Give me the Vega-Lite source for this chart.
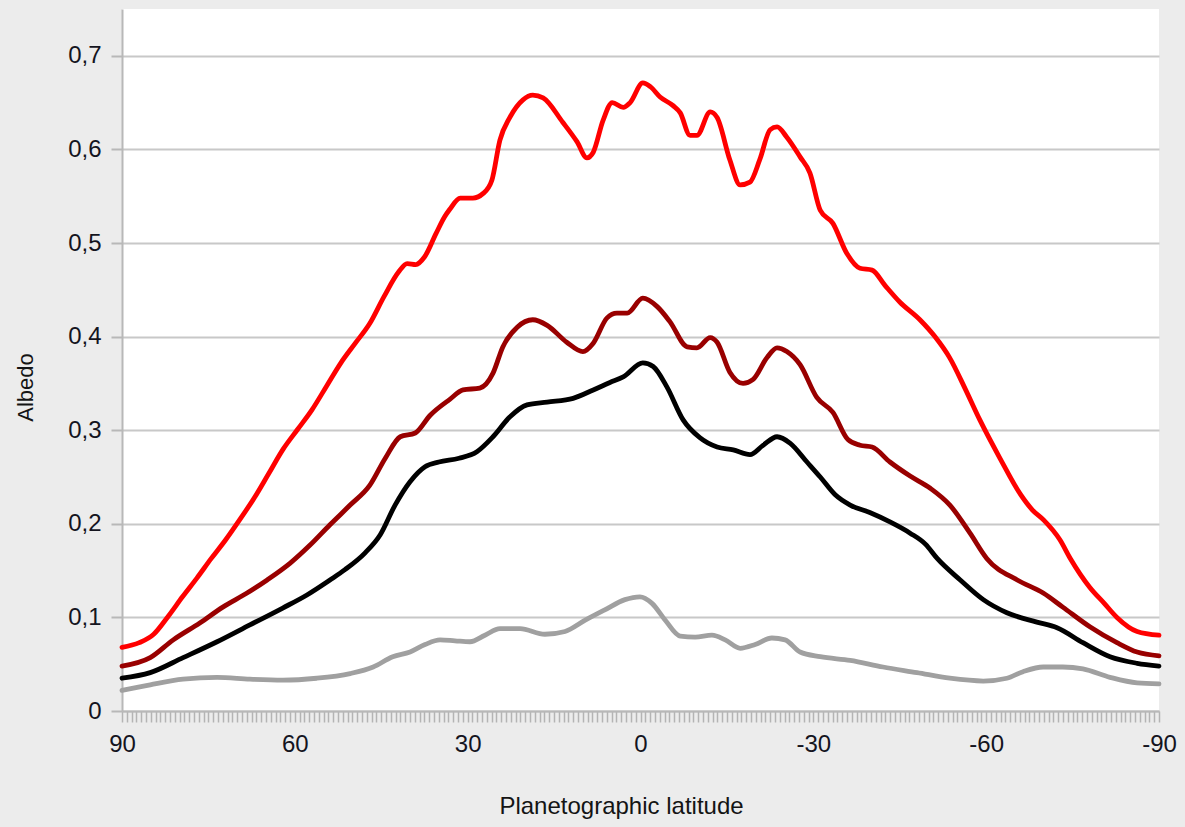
{
  "$schema": "https://vega.github.io/schema/vega-lite/v6.json",
  "width": 1037,
  "height": 702,
  "autosize": "none",
  "padding": {"left": 122, "top": 9, "right": 26, "bottom": 116},
  "background": "#ececec",
  "config": {
    "view": {"fill": "#ffffff", "stroke": null},
    "font": "Liberation Sans",
    "axis": {
      "labelFont": "Liberation Sans",
      "titleFont": "Liberation Sans",
      "labelColor": "#14141e",
      "titleColor": "#141414",
      "titleFontWeight": "normal",
      "domainColor": "#b8b8b8",
      "domainWidth": 2,
      "tickColor": "#b8b8b8"
    }
  },
  "datasets": {
    "albedo": [
      {"lat": 90, "albedo": 0.068, "series": "A"},
      {"lat": 87, "albedo": 0.073, "series": "A"},
      {"lat": 84.5, "albedo": 0.082, "series": "A"},
      {"lat": 82, "albedo": 0.101, "series": "A"},
      {"lat": 79.5, "albedo": 0.122, "series": "A"},
      {"lat": 77, "albedo": 0.142, "series": "A"},
      {"lat": 74.5, "albedo": 0.163, "series": "A"},
      {"lat": 72, "albedo": 0.183, "series": "A"},
      {"lat": 69.5, "albedo": 0.205, "series": "A"},
      {"lat": 67, "albedo": 0.228, "series": "A"},
      {"lat": 64.5, "albedo": 0.254, "series": "A"},
      {"lat": 62, "albedo": 0.28, "series": "A"},
      {"lat": 59.5, "albedo": 0.301, "series": "A"},
      {"lat": 57, "albedo": 0.322, "series": "A"},
      {"lat": 54.5, "albedo": 0.347, "series": "A"},
      {"lat": 52, "albedo": 0.372, "series": "A"},
      {"lat": 49.5, "albedo": 0.393, "series": "A"},
      {"lat": 47, "albedo": 0.414, "series": "A"},
      {"lat": 44.5, "albedo": 0.443, "series": "A"},
      {"lat": 42, "albedo": 0.469, "series": "A"},
      {"lat": 40.5, "albedo": 0.478, "series": "A"},
      {"lat": 39, "albedo": 0.477, "series": "A"},
      {"lat": 37.5, "albedo": 0.485, "series": "A"},
      {"lat": 35.5, "albedo": 0.51, "series": "A"},
      {"lat": 34, "albedo": 0.528, "series": "A"},
      {"lat": 33.1, "albedo": 0.536, "series": "A"},
      {"lat": 31.3, "albedo": 0.548, "series": "A"},
      {"lat": 29.1, "albedo": 0.548, "series": "A"},
      {"lat": 27.3, "albedo": 0.553, "series": "A"},
      {"lat": 25.8, "albedo": 0.567, "series": "A"},
      {"lat": 24.4, "albedo": 0.61, "series": "A"},
      {"lat": 22.7, "albedo": 0.634, "series": "A"},
      {"lat": 20.4, "albedo": 0.653, "series": "A"},
      {"lat": 18.7, "albedo": 0.658, "series": "A"},
      {"lat": 16.9, "albedo": 0.655, "series": "A"},
      {"lat": 13.5, "albedo": 0.629, "series": "A"},
      {"lat": 11, "albedo": 0.608, "series": "A"},
      {"lat": 9.3, "albedo": 0.591, "series": "A"},
      {"lat": 8.2, "albedo": 0.597, "series": "A"},
      {"lat": 6.5, "albedo": 0.631, "series": "A"},
      {"lat": 4.9, "albedo": 0.65, "series": "A"},
      {"lat": 3, "albedo": 0.645, "series": "A"},
      {"lat": 1.8, "albedo": 0.65, "series": "A"},
      {"lat": -0.4, "albedo": 0.671, "series": "A"},
      {"lat": -1.7, "albedo": 0.667, "series": "A"},
      {"lat": -3.4, "albedo": 0.656, "series": "A"},
      {"lat": -5.6, "albedo": 0.647, "series": "A"},
      {"lat": -6.9, "albedo": 0.639, "series": "A"},
      {"lat": -8.6, "albedo": 0.615, "series": "A"},
      {"lat": -9.8, "albedo": 0.615, "series": "A"},
      {"lat": -12.1, "albedo": 0.64, "series": "A"},
      {"lat": -13.3, "albedo": 0.634, "series": "A"},
      {"lat": -15.5, "albedo": 0.589, "series": "A"},
      {"lat": -17.3, "albedo": 0.562, "series": "A"},
      {"lat": -19, "albedo": 0.565, "series": "A"},
      {"lat": -20.7, "albedo": 0.589, "series": "A"},
      {"lat": -22.5, "albedo": 0.621, "series": "A"},
      {"lat": -23.7, "albedo": 0.624, "series": "A"},
      {"lat": -25.4, "albedo": 0.613, "series": "A"},
      {"lat": -27.7, "albedo": 0.592, "series": "A"},
      {"lat": -29.4, "albedo": 0.575, "series": "A"},
      {"lat": -31.2, "albedo": 0.535, "series": "A"},
      {"lat": -33.4, "albedo": 0.521, "series": "A"},
      {"lat": -35.8, "albedo": 0.489, "series": "A"},
      {"lat": -38.1, "albedo": 0.473, "series": "A"},
      {"lat": -40.2, "albedo": 0.471, "series": "A"},
      {"lat": -42.4, "albedo": 0.455, "series": "A"},
      {"lat": -45, "albedo": 0.437, "series": "A"},
      {"lat": -48.5, "albedo": 0.418, "series": "A"},
      {"lat": -51.1, "albedo": 0.4, "series": "A"},
      {"lat": -53.7, "albedo": 0.377, "series": "A"},
      {"lat": -56.3, "albedo": 0.345, "series": "A"},
      {"lat": -58.9, "albedo": 0.311, "series": "A"},
      {"lat": -62.4, "albedo": 0.27, "series": "A"},
      {"lat": -65.9, "albedo": 0.232, "series": "A"},
      {"lat": -68, "albedo": 0.215, "series": "A"},
      {"lat": -70, "albedo": 0.204, "series": "A"},
      {"lat": -72.8, "albedo": 0.183, "series": "A"},
      {"lat": -74.6, "albedo": 0.163, "series": "A"},
      {"lat": -78, "albedo": 0.132, "series": "A"},
      {"lat": -80.5, "albedo": 0.115, "series": "A"},
      {"lat": -82.7, "albedo": 0.1, "series": "A"},
      {"lat": -86.2, "albedo": 0.085, "series": "A"},
      {"lat": -90, "albedo": 0.081, "series": "A"},

      {"lat": 90, "albedo": 0.048, "series": "B"},
      {"lat": 85.1, "albedo": 0.057, "series": "B"},
      {"lat": 81.1, "albedo": 0.076, "series": "B"},
      {"lat": 76.5, "albedo": 0.094, "series": "B"},
      {"lat": 72.5, "albedo": 0.111, "series": "B"},
      {"lat": 68.3, "albedo": 0.126, "series": "B"},
      {"lat": 64.8, "albedo": 0.14, "series": "B"},
      {"lat": 60.8, "albedo": 0.158, "series": "B"},
      {"lat": 57.4, "albedo": 0.177, "series": "B"},
      {"lat": 53.9, "albedo": 0.199, "series": "B"},
      {"lat": 50.4, "albedo": 0.22, "series": "B"},
      {"lat": 47, "albedo": 0.241, "series": "B"},
      {"lat": 44.3, "albedo": 0.27, "series": "B"},
      {"lat": 41.7, "albedo": 0.293, "series": "B"},
      {"lat": 39.1, "albedo": 0.297, "series": "B"},
      {"lat": 36.5, "albedo": 0.316, "series": "B"},
      {"lat": 33.1, "albedo": 0.333, "series": "B"},
      {"lat": 30.8, "albedo": 0.343, "series": "B"},
      {"lat": 27.9, "albedo": 0.345, "series": "B"},
      {"lat": 25.6, "albedo": 0.361, "series": "B"},
      {"lat": 23.9, "albedo": 0.389, "series": "B"},
      {"lat": 21.4, "albedo": 0.41, "series": "B"},
      {"lat": 18.7, "albedo": 0.418, "series": "B"},
      {"lat": 16.2, "albedo": 0.412, "series": "B"},
      {"lat": 12.8, "albedo": 0.394, "series": "B"},
      {"lat": 10, "albedo": 0.384, "series": "B"},
      {"lat": 8.2, "albedo": 0.393, "series": "B"},
      {"lat": 5.8, "albedo": 0.42, "series": "B"},
      {"lat": 4.1, "albedo": 0.425, "series": "B"},
      {"lat": 2.3, "albedo": 0.425, "series": "B"},
      {"lat": -0.4, "albedo": 0.441, "series": "B"},
      {"lat": -2.9, "albedo": 0.432, "series": "B"},
      {"lat": -5.1, "albedo": 0.416, "series": "B"},
      {"lat": -8.1, "albedo": 0.389, "series": "B"},
      {"lat": -9.8, "albedo": 0.388, "series": "B"},
      {"lat": -12.1, "albedo": 0.399, "series": "B"},
      {"lat": -13.3, "albedo": 0.394, "series": "B"},
      {"lat": -15.5, "albedo": 0.362, "series": "B"},
      {"lat": -17.8, "albedo": 0.35, "series": "B"},
      {"lat": -19.5, "albedo": 0.354, "series": "B"},
      {"lat": -22, "albedo": 0.378, "series": "B"},
      {"lat": -23.7, "albedo": 0.388, "series": "B"},
      {"lat": -25.4, "albedo": 0.384, "series": "B"},
      {"lat": -27.7, "albedo": 0.37, "series": "B"},
      {"lat": -30.6, "albedo": 0.335, "series": "B"},
      {"lat": -33.4, "albedo": 0.319, "series": "B"},
      {"lat": -36, "albedo": 0.29, "series": "B"},
      {"lat": -38.1, "albedo": 0.284, "series": "B"},
      {"lat": -40.2, "albedo": 0.282, "series": "B"},
      {"lat": -43.3, "albedo": 0.266, "series": "B"},
      {"lat": -46.8, "albedo": 0.251, "series": "B"},
      {"lat": -50.3, "albedo": 0.238, "series": "B"},
      {"lat": -53.7, "albedo": 0.22, "series": "B"},
      {"lat": -57.2, "albedo": 0.19, "series": "B"},
      {"lat": -60.1, "albedo": 0.163, "series": "B"},
      {"lat": -65.4, "albedo": 0.14, "series": "B"},
      {"lat": -69.9, "albedo": 0.126, "series": "B"},
      {"lat": -73.3, "albedo": 0.111, "series": "B"},
      {"lat": -78, "albedo": 0.09, "series": "B"},
      {"lat": -82.7, "albedo": 0.073, "series": "B"},
      {"lat": -86.2, "albedo": 0.063, "series": "B"},
      {"lat": -90, "albedo": 0.059, "series": "B"},

      {"lat": 90, "albedo": 0.035, "series": "C"},
      {"lat": 85.1, "albedo": 0.041, "series": "C"},
      {"lat": 79.4, "albedo": 0.057, "series": "C"},
      {"lat": 73.5, "albedo": 0.074, "series": "C"},
      {"lat": 67.8, "albedo": 0.092, "series": "C"},
      {"lat": 62.1, "albedo": 0.11, "series": "C"},
      {"lat": 57.9, "albedo": 0.124, "series": "C"},
      {"lat": 53.9, "albedo": 0.14, "series": "C"},
      {"lat": 51.3, "albedo": 0.151, "series": "C"},
      {"lat": 47.8, "albedo": 0.169, "series": "C"},
      {"lat": 45.2, "albedo": 0.188, "series": "C"},
      {"lat": 42.6, "albedo": 0.22, "series": "C"},
      {"lat": 40, "albedo": 0.245, "series": "C"},
      {"lat": 37.4, "albedo": 0.261, "series": "C"},
      {"lat": 35, "albedo": 0.266, "series": "C"},
      {"lat": 31.5, "albedo": 0.27, "series": "C"},
      {"lat": 28.4, "albedo": 0.277, "series": "C"},
      {"lat": 25.6, "albedo": 0.293, "series": "C"},
      {"lat": 22.7, "albedo": 0.314, "series": "C"},
      {"lat": 19.7, "albedo": 0.327, "series": "C"},
      {"lat": 16.2, "albedo": 0.33, "series": "C"},
      {"lat": 11.7, "albedo": 0.334, "series": "C"},
      {"lat": 8.2, "albedo": 0.343, "series": "C"},
      {"lat": 5.3, "albedo": 0.351, "series": "C"},
      {"lat": 3, "albedo": 0.357, "series": "C"},
      {"lat": -0.4, "albedo": 0.372, "series": "C"},
      {"lat": -2.2, "albedo": 0.368, "series": "C"},
      {"lat": -4.6, "albedo": 0.346, "series": "C"},
      {"lat": -7.4, "albedo": 0.311, "series": "C"},
      {"lat": -10.3, "albedo": 0.292, "series": "C"},
      {"lat": -13.3, "albedo": 0.282, "series": "C"},
      {"lat": -16.1, "albedo": 0.279, "series": "C"},
      {"lat": -19, "albedo": 0.274, "series": "C"},
      {"lat": -21.3, "albedo": 0.284, "series": "C"},
      {"lat": -23.7, "albedo": 0.293, "series": "C"},
      {"lat": -26, "albedo": 0.286, "series": "C"},
      {"lat": -28.9, "albedo": 0.266, "series": "C"},
      {"lat": -31.2, "albedo": 0.25, "series": "C"},
      {"lat": -33.8, "albedo": 0.231, "series": "C"},
      {"lat": -36.4, "albedo": 0.22, "series": "C"},
      {"lat": -39.8, "albedo": 0.212, "series": "C"},
      {"lat": -43.3, "albedo": 0.202, "series": "C"},
      {"lat": -46.8, "albedo": 0.19, "series": "C"},
      {"lat": -49.5, "albedo": 0.178, "series": "C"},
      {"lat": -51.5, "albedo": 0.163, "series": "C"},
      {"lat": -55.5, "albedo": 0.14, "series": "C"},
      {"lat": -59.5, "albedo": 0.119, "series": "C"},
      {"lat": -63.6, "albedo": 0.105, "series": "C"},
      {"lat": -68.8, "albedo": 0.095, "series": "C"},
      {"lat": -72.3, "albedo": 0.089, "series": "C"},
      {"lat": -76.8, "albedo": 0.073, "series": "C"},
      {"lat": -81.5, "albedo": 0.058, "series": "C"},
      {"lat": -86.2, "albedo": 0.051, "series": "C"},
      {"lat": -90, "albedo": 0.048, "series": "C"},

      {"lat": 90, "albedo": 0.022, "series": "D"},
      {"lat": 85.1, "albedo": 0.028, "series": "D"},
      {"lat": 79.4, "albedo": 0.034, "series": "D"},
      {"lat": 73.5, "albedo": 0.036, "series": "D"},
      {"lat": 67.8, "albedo": 0.034, "series": "D"},
      {"lat": 62.1, "albedo": 0.033, "series": "D"},
      {"lat": 56.2, "albedo": 0.035, "series": "D"},
      {"lat": 50.4, "albedo": 0.04, "series": "D"},
      {"lat": 46.4, "albedo": 0.047, "series": "D"},
      {"lat": 43, "albedo": 0.058, "series": "D"},
      {"lat": 40, "albedo": 0.063, "series": "D"},
      {"lat": 37.4, "albedo": 0.071, "series": "D"},
      {"lat": 34.8, "albedo": 0.076, "series": "D"},
      {"lat": 32.2, "albedo": 0.075, "series": "D"},
      {"lat": 29.6, "albedo": 0.074, "series": "D"},
      {"lat": 27, "albedo": 0.081, "series": "D"},
      {"lat": 24.4, "albedo": 0.088, "series": "D"},
      {"lat": 20.9, "albedo": 0.088, "series": "D"},
      {"lat": 16.6, "albedo": 0.082, "series": "D"},
      {"lat": 13.1, "albedo": 0.085, "series": "D"},
      {"lat": 9.6, "albedo": 0.097, "series": "D"},
      {"lat": 6.2, "albedo": 0.108, "series": "D"},
      {"lat": 2.7, "albedo": 0.119, "series": "D"},
      {"lat": 0.1, "albedo": 0.122, "series": "D"},
      {"lat": -2, "albedo": 0.115, "series": "D"},
      {"lat": -4.3, "albedo": 0.097, "series": "D"},
      {"lat": -6.9, "albedo": 0.08, "series": "D"},
      {"lat": -9.5, "albedo": 0.079, "series": "D"},
      {"lat": -12.4, "albedo": 0.081, "series": "D"},
      {"lat": -14.7, "albedo": 0.076, "series": "D"},
      {"lat": -17.3, "albedo": 0.067, "series": "D"},
      {"lat": -19.9, "albedo": 0.071, "series": "D"},
      {"lat": -22.8, "albedo": 0.078, "series": "D"},
      {"lat": -25.1, "albedo": 0.076, "series": "D"},
      {"lat": -27.7, "albedo": 0.063, "series": "D"},
      {"lat": -31.2, "albedo": 0.058, "series": "D"},
      {"lat": -36.4, "albedo": 0.054, "series": "D"},
      {"lat": -42.1, "albedo": 0.047, "series": "D"},
      {"lat": -48, "albedo": 0.041, "series": "D"},
      {"lat": -53.7, "albedo": 0.035, "series": "D"},
      {"lat": -59.5, "albedo": 0.032, "series": "D"},
      {"lat": -63.6, "albedo": 0.035, "series": "D"},
      {"lat": -66.4, "albedo": 0.042, "series": "D"},
      {"lat": -69.9, "albedo": 0.047, "series": "D"},
      {"lat": -73.3, "albedo": 0.047, "series": "D"},
      {"lat": -76.8, "albedo": 0.045, "series": "D"},
      {"lat": -81.5, "albedo": 0.036, "series": "D"},
      {"lat": -86.2, "albedo": 0.03, "series": "D"},
      {"lat": -90, "albedo": 0.029, "series": "D"}
    ]
  },
  "data": {"name": "albedo"},
  "mark": {"type": "line", "interpolate": "monotone", "strokeWidth": 4.8, "strokeCap": "round", "strokeJoin": "round"},
  "encoding": {
    "x": {
      "field": "lat",
      "type": "quantitative",
      "scale": {"domain": [90, -90], "nice": false, "zero": false},
      "axis": {
        "title": "Planetographic latitude",
        "titleFontSize": 24,
        "titleX": 499,
        "titleY": 102,
        "titleBaseline": "alphabetic",
        "titleAlign": "center",
        "grid": false,
        "tickSize": 11,
        "tickWidth": 1.5,
        "tickColor": "#b4b4b4",
        "labelFontSize": 24,
        "labelPadding": 10,
        "labelOverlap": false,
        "labelFlush": false,
        "labelBound": false,
        "labelExpr": "datum.value % 30 === 0 ? '' + datum.value : ''",
        "values": [90, 89.167, 88.333, 87.5, 86.667, 85.833, 85, 84.167, 83.333, 82.5, 81.667, 80.833, 80, 79.167, 78.333, 77.5, 76.667, 75.833, 75, 74.167, 73.333, 72.5, 71.667, 70.833, 70, 69.167, 68.333, 67.5, 66.667, 65.833, 65, 64.167, 63.333, 62.5, 61.667, 60.833, 60, 59.167, 58.333, 57.5, 56.667, 55.833, 55, 54.167, 53.333, 52.5, 51.667, 50.833, 50, 49.167, 48.333, 47.5, 46.667, 45.833, 45, 44.167, 43.333, 42.5, 41.667, 40.833, 40, 39.167, 38.333, 37.5, 36.667, 35.833, 35, 34.167, 33.333, 32.5, 31.667, 30.833, 30, 29.167, 28.333, 27.5, 26.667, 25.833, 25, 24.167, 23.333, 22.5, 21.667, 20.833, 20, 19.167, 18.333, 17.5, 16.667, 15.833, 15, 14.167, 13.333, 12.5, 11.667, 10.833, 10, 9.167, 8.333, 7.5, 6.667, 5.833, 5, 4.167, 3.333, 2.5, 1.667, 0.833, 0, -0.833, -1.667, -2.5, -3.333, -4.167, -5, -5.833, -6.667, -7.5, -8.333, -9.167, -10, -10.833, -11.667, -12.5, -13.333, -14.167, -15, -15.833, -16.667, -17.5, -18.333, -19.167, -20, -20.833, -21.667, -22.5, -23.333, -24.167, -25, -25.833, -26.667, -27.5, -28.333, -29.167, -30, -30.833, -31.667, -32.5, -33.333, -34.167, -35, -35.833, -36.667, -37.5, -38.333, -39.167, -40, -40.833, -41.667, -42.5, -43.333, -44.167, -45, -45.833, -46.667, -47.5, -48.333, -49.167, -50, -50.833, -51.667, -52.5, -53.333, -54.167, -55, -55.833, -56.667, -57.5, -58.333, -59.167, -60, -60.833, -61.667, -62.5, -63.333, -64.167, -65, -65.833, -66.667, -67.5, -68.333, -69.167, -70, -70.833, -71.667, -72.5, -73.333, -74.167, -75, -75.833, -76.667, -77.5, -78.333, -79.167, -80, -80.833, -81.667, -82.5, -83.333, -84.167, -85, -85.833, -86.667, -87.5, -88.333, -89.167, -90]
      }
    },
    "y": {
      "field": "albedo",
      "type": "quantitative",
      "scale": {"domain": [0, 0.75], "nice": false},
      "axis": {
        "title": "Albedo",
        "titleFontSize": 22,
        "titleX": -97,
        "titleY": 378,
        "titleAlign": "center",
        "titleBaseline": "middle",
        "values": [0, 0.1, 0.2, 0.3, 0.4, 0.5, 0.6, 0.7],
        "labelExpr": "datum.value === 0 ? '0' : replace(format(datum.value, '.1f'), '.', ',')",
        "labelFontSize": 24,
        "labelPadding": 10,
        "tickSize": 11,
        "tickWidth": 2,
        "grid": true,
        "gridColor": "#c8c8c8",
        "gridWidth": 2
      }
    },
    "color": {
      "field": "series",
      "type": "nominal",
      "legend": null,
      "scale": {"domain": ["A", "B", "C", "D"], "range": ["#ff0000", "#990000", "#000000", "#a0a0a0"]}
    }
  }
}
